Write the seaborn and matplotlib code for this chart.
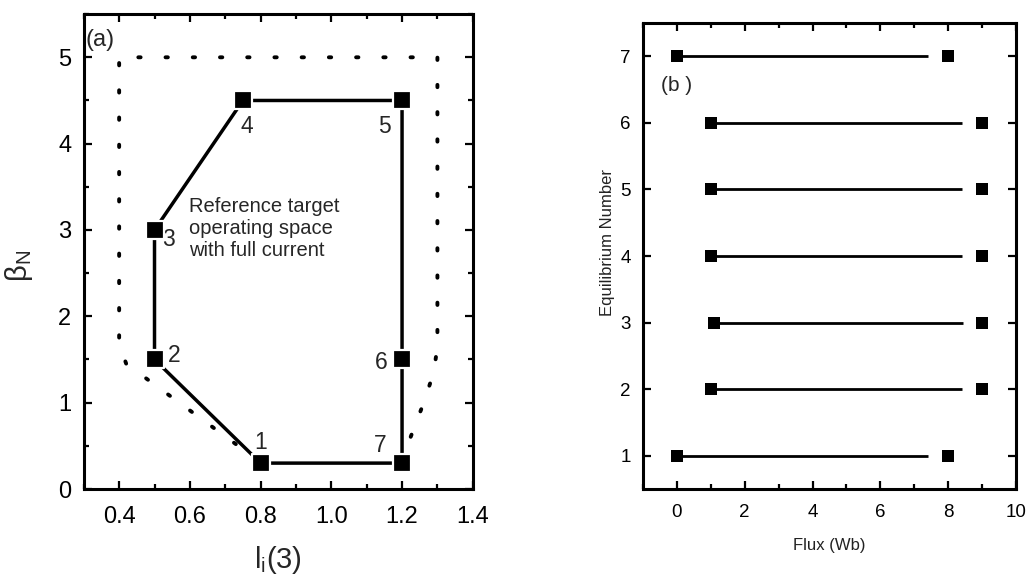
import matplotlib
matplotlib.use("Agg")
import matplotlib.pyplot as plt
import seaborn as sns
from matplotlib.ticker import MultipleLocator

# (a) points d'équilibre de référence
pt_labels = ["1", "2", "3", "4", "5", "6", "7"]
li_vals = [0.80, 0.50, 0.50, 0.75, 1.20, 1.20, 1.20]
beta_vals = [0.30, 1.50, 3.00, 4.50, 4.50, 1.50, 0.30]

# limite en pointillés
lim_li = [0.73, 0.42, 0.40, 0.40, 1.30, 1.30, 1.29, 1.265, 1.24, 1.21]
lim_beta = [0.52, 1.45, 1.68, 5.00, 5.00, 1.65, 1.36, 1.04, 0.77, 0.45]

# (b) plage de flux par équilibre
eq_num = [1, 2, 3, 4, 5, 6, 7]
flux_start = [0.0, 1.0, 1.1, 1.0, 1.0, 1.0, 0.0]
flux_line_end = [7.4, 8.4, 8.45, 8.4, 8.4, 8.4, 7.4]
flux_end = [8.0, 9.0, 9.0, 9.0, 9.0, 9.0, 8.0]

sns.set_style("ticks")
plt.rcParams["font.family"] = ["Liberation Sans", "DejaVu Sans"]
plt.rcParams["mathtext.fontset"] = "custom"
plt.rcParams["mathtext.rm"] = "Liberation Sans"
plt.rcParams["mathtext.it"] = "Liberation Sans:italic"

fig = plt.figure(figsize=(10.28, 5.77), dpi=100)
ax1 = fig.add_axes([0.0815, 0.1525, 0.3784, 0.823])
ax2 = fig.add_axes([0.6255, 0.1525, 0.3628, 0.8076])


def style_axes(ax, labelsize, pad_x, pad_y):
    for sp in ax.spines.values():
        sp.set_linewidth(2.2)
        sp.set_color("black")
    ax.tick_params(which="both", direction="in", top=True, right=True,
                   width=1.6, colors="black", labelsize=labelsize)
    ax.tick_params(which="major", length=6)
    ax.tick_params(which="minor", length=3.5)
    ax.tick_params(axis="x", pad=pad_x)
    ax.tick_params(axis="y", pad=pad_y)


# --- panneau (a)
sns.lineplot(x=lim_li, y=lim_beta, sort=False, estimator=None, ax=ax1,
             color="black", linewidth=2.8, linestyle=(0, (0.6, 6.4)),
             dash_capstyle="round")
poly_x = li_vals + [li_vals[0]]
poly_y = beta_vals + [beta_vals[0]]
sns.lineplot(x=poly_x, y=poly_y, sort=False, estimator=None, ax=ax1,
             color="black", linewidth=2.5)
sns.scatterplot(x=li_vals, y=beta_vals, ax=ax1, marker="s", s=150,
                color="black", edgecolor="white", linewidth=1.6, zorder=5)

offsets = [(0, 15), (14, 3), (10, -7), (3, -19), (-13, -19), (-15, -2), (-16, 13)]
for lab, x, y, off in zip(pt_labels, li_vals, beta_vals, offsets):
    ax1.annotate(lab, (x, y), xytext=off, textcoords="offset points",
                 ha="center", va="center", fontsize=16.5)

ax1.text(0.597, 3.02, "Reference target\noperating space\nwith full current",
         ha="left", va="center", fontsize=14.5, linespacing=1.2)
ax1.text(0.305, 5.2, "(a)", ha="left", va="center", fontsize=17)

ax1.set_xlim(0.3, 1.4)
ax1.set_ylim(0, 5.5)
ax1.xaxis.set_major_locator(MultipleLocator(0.2))
ax1.xaxis.set_minor_locator(MultipleLocator(0.1))
ax1.yaxis.set_major_locator(MultipleLocator(1))
ax1.yaxis.set_minor_locator(MultipleLocator(0.5))
ax1.set_xticks([0.4, 0.6, 0.8, 1.0, 1.2, 1.4])
ax1.set_xticklabels(["0.4", "0.6", "0.8", "1.0", "1.2", "1.4"])
style_axes(ax1, 17, 12, 9)
ax1.set_xlabel(r"$\mathregular{l_i}$(3)", fontsize=21)
ax1.set_ylabel(r"$\mathregular{\beta_N}$", fontsize=21)
ax1.xaxis.set_label_coords(0.5, -0.115)
ax1.yaxis.set_label_coords(-0.125, 0.47)

# --- panneau (b)
ax2.hlines(eq_num, flux_start, flux_line_end, color="black", linewidth=2.0)
sns.scatterplot(x=flux_start, y=eq_num, ax=ax2, marker="s", s=72,
                color="black", linewidth=0, zorder=5)
sns.scatterplot(x=flux_end, y=eq_num, ax=ax2, marker="s", s=72,
                color="black", linewidth=0, zorder=5)
ax2.text(0.0, 6.56, "(b )", ha="center", va="center", fontsize=15)

ax2.set_xlim(-1, 10)
ax2.set_ylim(0.5, 7.5)
ax2.xaxis.set_major_locator(MultipleLocator(2))
ax2.xaxis.set_minor_locator(MultipleLocator(1))
ax2.yaxis.set_major_locator(MultipleLocator(1))
style_axes(ax2, 13.5, 11, 9)
ax2.set_xlabel("Flux (Wb)", fontsize=12, color="#222222")
ax2.set_ylabel("Equilibrium Number", fontsize=12, color="#222222")
ax2.xaxis.set_label_coords(0.5, -0.105)
ax2.yaxis.set_label_coords(-0.075, 0.53)

fig.savefig("out.png", dpi=100)
